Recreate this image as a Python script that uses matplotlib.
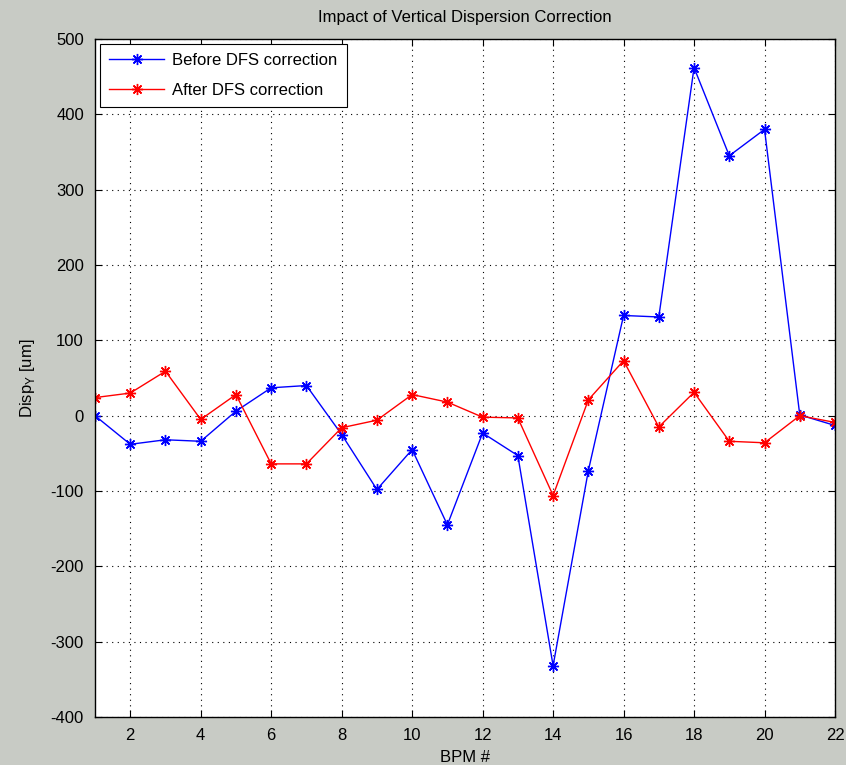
"""Impact of vertical dispersion correction (DFS), before vs after, per BPM."""

import matplotlib

matplotlib.use("Agg")
import matplotlib.pyplot as plt
import numpy as np

bpm = np.arange(1, 23)
disp_before = [0, -38, -32, -34, 6, 37, 40, -25, -98, -45, -145,
               -23, -53, -332, -73, 133, 131, 462, 345, 380, 1, -13]
disp_after = [24, 30, 59, -5, 28, -64, -64, -16, -6, 28, 18,
              -2, -3, -106, 21, 73, -15, 31, -34, -36, 0, -9]

x_ticks = np.arange(2, 23, 2)
y_ticks = np.arange(-400, 501, 100)

BG = "#c8cbc5"
plt.rcParams["font.family"] = ["Liberation Sans", "DejaVu Sans"]
plt.rcParams["axes.unicode_minus"] = False

fig = plt.figure(figsize=(8.46, 7.65), dpi=100, facecolor=BG)
ax = fig.add_axes([95 / 846, 48 / 765, 740 / 846, 678 / 765])

star = (8, 2, 0)
ax.plot(bpm, disp_before, color="#0000ff", lw=1.0, marker=star, ms=8,
        mew=1.0, label="Before DFS correction")
ax.plot(bpm, disp_after, color="#ff0000", lw=1.0, marker=star, ms=8,
        mew=1.0, label="After DFS correction")

ax.set_xlim(1, 22)
ax.set_ylim(-400, 500)
ax.set_xticks(x_ticks)
ax.set_yticks(y_ticks)
ax.grid(True, color="black", linestyle=(0, (1, 4)), linewidth=0.8)
ax.tick_params(direction="in", top=True, right=True, length=5,
               labelsize=12, pad=8)
for side in ax.spines.values():
    side.set_linewidth(1.0)

ax.set_title("Impact of Vertical Dispersion Correction", fontsize=12, pad=12)
ax.set_xlabel("BPM #", fontsize=12, labelpad=5)
ax.set_ylabel("Disp$_{\\mathregular{Y}}$ [um]", fontsize=12, labelpad=10)

leg = ax.legend(loc="upper left", fontsize=12, fancybox=False,
                edgecolor="black", framealpha=1.0, borderaxespad=0.3,
                handlelength=3.3, handletextpad=0.5, labelspacing=0.9,
                borderpad=0.55)
leg.get_frame().set_linewidth(0.8)

fig.savefig("out.png", dpi=100, facecolor=BG)
